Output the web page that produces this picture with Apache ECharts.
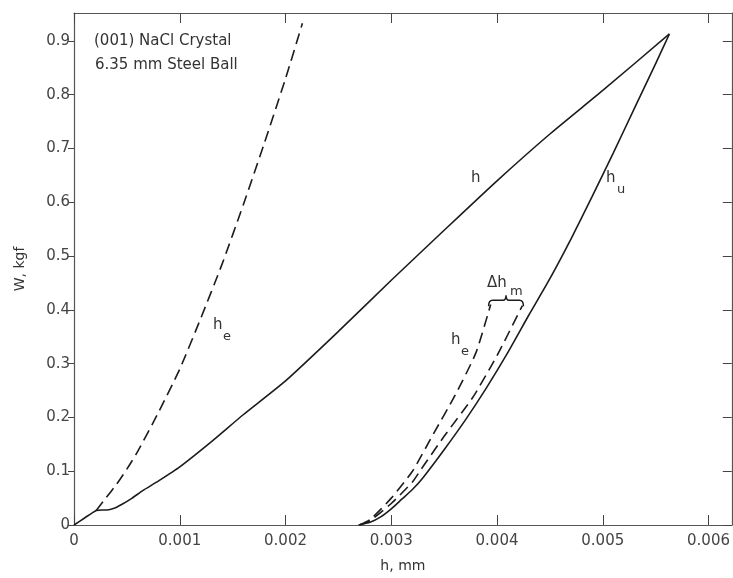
<!DOCTYPE html>
<html>
<head>
<meta charset="utf-8">
<script src="https://cdn.jsdelivr.net/npm/echarts@6/dist/echarts.min.js"></script>
<style>
  html, body { margin: 0; padding: 0; background: #fff; }
  #chart { width: 733px; height: 578px; }
</style>
</head>
<body>
<div id="chart"></div>
<script>
// h (mm) , W (kgf) pairs
const loadingH = [
  [0, 0], [0.0001, 0.013], [0.00021, 0.027], [0.00026, 0.028], [0.00031, 0.028],
  [0.00038, 0.031], [0.00045, 0.038], [0.00055, 0.05], [0.00065, 0.064], [0.0008, 0.082],
  [0.001, 0.108], [0.0013, 0.155], [0.0016, 0.205], [0.002, 0.268], [0.0025, 0.36],
  [0.003, 0.455], [0.0035, 0.548], [0.004, 0.64], [0.0045, 0.727], [0.005, 0.808], [0.00563, 0.913]
]
const elasticLeft = [
  [0.00021, 0.027], [0.0003, 0.05], [0.0004, 0.075], [0.0005, 0.104], [0.0006, 0.136],
  [0.0008, 0.21], [0.001, 0.29], [0.0012, 0.385], [0.0014, 0.485], [0.0016, 0.595],
  [0.0018, 0.71], [0.002, 0.83], [0.00216, 0.933]
]
const unloadingHu = [
  [0.00269, 0], [0.0028, 0.005], [0.0029, 0.015], [0.003, 0.03], [0.0031, 0.048],
  [0.0032, 0.066], [0.0033, 0.088], [0.0035, 0.14], [0.0037, 0.195], [0.0039, 0.255],
  [0.0041, 0.32], [0.0043, 0.39], [0.0045, 0.458], [0.0047, 0.532], [0.0049, 0.611],
  [0.0051, 0.692], [0.0053, 0.775], [0.0055, 0.858], [0.00563, 0.913]
]
const unloadingMid = [
  [0.0027, 0], [0.0028, 0.008], [0.003, 0.04], [0.0032, 0.08], [0.00327, 0.1],
  [0.0035, 0.165], [0.00377, 0.237], [0.004, 0.315], [0.00424, 0.408]
]
const elasticRight = [
  [0.0027, 0], [0.0028, 0.01], [0.003, 0.05], [0.0032, 0.1], [0.0034, 0.17],
  [0.0036, 0.24], [0.0038, 0.32], [0.00394, 0.41]
]
// brace over Δh_m: [hLeft, hRight, W]
const braceData = [[0.00392, 0.00425, 0.418]]

// tick values
const xTicks = [0, 0.001, 0.002, 0.003, 0.004, 0.005, 0.006]
const yTicks = [0, 0.1, 0.2, 0.3, 0.4, 0.5, 0.6, 0.7, 0.8, 0.9]
const xMax = 0.00622, yMax = 0.952

const font = 'DejaVu Sans'
const ink = '#1c1c1c'

const lineSeries = (data, dashed) => ({
  type: 'line',
  data,
  showSymbol: false,
  smooth: 0.2,
  lineStyle: { color: ink, width: 1.6, type: dashed ? [11, 6] : 'solid' },
  z: 3
})

const frameAxis = (ticks, max, extra) => Object.assign({
  type: 'value', min: 0, max,
  axisLine: { onZero: false, lineStyle: { color: '#555', width: 1.2 } },
  axisTick: { inside: true, length: 10, customValues: ticks, lineStyle: { color: '#444' } },
  axisLabel: { show: false },
  splitLine: { show: false }
}, extra)

const chart = echarts.init(document.getElementById('chart'))
const option = {
  animation: false,
  textStyle: { fontFamily: font },
  grid: { left: 74, right: 1, top: 13, bottom: 50 },
  xAxis: [
    frameAxis(xTicks, xMax, {
      name: 'h, mm', nameLocation: 'middle', nameGap: 34,
      nameTextStyle: { fontSize: 14, color: '#333', fontFamily: font },
      axisLabel: { customValues: xTicks, formatter: v => (v === 0 ? '0' : v.toFixed(3)), fontSize: 15, color: '#444', margin: 9 }
    }),
    frameAxis(xTicks, xMax, { position: 'top' })
  ],
  yAxis: [
    frameAxis(yTicks, yMax, {
      name: 'W, kgf', nameLocation: 'middle', nameGap: 47, nameRotate: 90,
      nameTextStyle: { fontSize: 14, color: '#333', fontFamily: font },
      axisTick: { inside: false, length: 6, customValues: yTicks, lineStyle: { color: '#444' } },
      axisLabel: { customValues: yTicks, formatter: v => (v === 0 ? '0' : v.toFixed(1)), fontSize: 15, color: '#444', margin: 4 }
    }),
    frameAxis(yTicks, yMax, { position: 'right', axisTick: { inside: true, length: 9, customValues: yTicks, lineStyle: { color: '#444' } } })
  ],
  series: [
    lineSeries(loadingH, false),
    lineSeries(elasticLeft, true),
    lineSeries(unloadingHu, false),
    lineSeries(unloadingMid, true),
    lineSeries(elasticRight, true),
    {
      type: 'custom',
      data: braceData,
      renderItem: (params, api) => {
        const a = api.coord([api.value(0), api.value(2)])
        const b = api.coord([api.value(1), api.value(2)])
        const y = a[1], m = (a[0] + b[0]) / 2
        const d = `M${a[0]},${y + 6} Q${a[0]},${y} ${a[0] + 4},${y} L${m - 3},${y} Q${m},${y} ${m},${y - 5}` +
          ` Q${m},${y} ${m + 3},${y} L${b[0] - 4},${y} Q${b[0]},${y} ${b[0]},${y + 6}`
        return {
          type: 'path',
          shape: { pathData: d },
          style: { stroke: ink, fill: null, lineWidth: 1.5 }
        }
      },
      z: 4
    }
  ],
  graphic: [
    { type: 'text', left: 94, top: 34, style: { text: '(001) NaCl Crystal', font: `15px "${font}"`, fill: '#333' } },
    { type: 'text', left: 95, top: 58, style: { text: '6.35 mm Steel Ball', font: `15px "${font}"`, fill: '#333' } },
    // h on loading curve
    { type: 'text', left: 471, top: 171, style: { text: 'h', font: `15px "${font}"`, fill: '#333' } },
    // h_u
    { type: 'text', left: 606, top: 171, style: { text: 'h', font: `15px "${font}"`, fill: '#333' } },
    { type: 'text', left: 617, top: 183, style: { text: 'u', font: `13px "${font}"`, fill: '#333' } },
    // h_e left
    { type: 'text', left: 213, top: 318, style: { text: 'h', font: `15px "${font}"`, fill: '#333' } },
    { type: 'text', left: 223, top: 330, style: { text: 'e', font: `13px "${font}"`, fill: '#333' } },
    // h_e right
    { type: 'text', left: 451, top: 333, style: { text: 'h', font: `15px "${font}"`, fill: '#333' } },
    { type: 'text', left: 461, top: 345, style: { text: 'e', font: `13px "${font}"`, fill: '#333' } },
    // Δh_m
    { type: 'text', left: 487, top: 276, style: { text: 'Δh', font: `15px "${font}"`, fill: '#333' } },
    { type: 'text', left: 510, top: 285, style: { text: 'm', font: `13px "${font}"`, fill: '#333' } }
  ]
}
option && chart.setOption(option)
</script>
</body>
</html>
